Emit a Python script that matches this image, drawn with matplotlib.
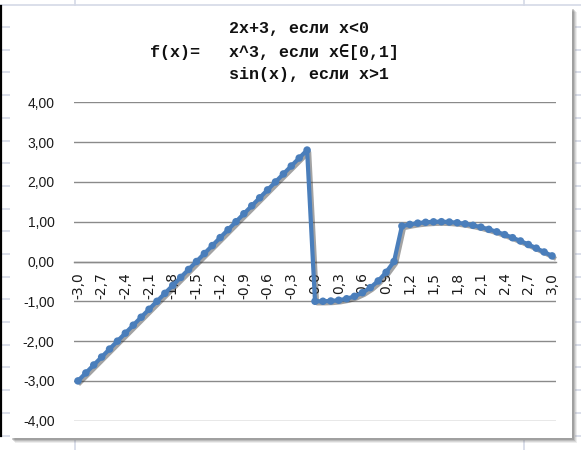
import matplotlib
matplotlib.use("Agg")
import matplotlib.pyplot as plt
import matplotlib.patheffects as pe
from matplotlib.lines import Line2D
from matplotlib.patches import Rectangle

# x values from -3.0 to 3.0 in steps of 0.1
x_values = [round(-3.0 + 0.1 * i, 1) for i in range(61)]

# f(x) for x < 0
f_left = [-3.0, -2.8, -2.6, -2.4, -2.2, -2.0, -1.8, -1.6, -1.4, -1.2,
          -1.0, -0.8, -0.6, -0.4, -0.2, 0.0, 0.2, 0.4, 0.6, 0.8,
          1.0, 1.2, 1.4, 1.6, 1.8, 2.0, 2.2, 2.4, 2.6, 2.8]
# f(x) for x in [0, 1]
f_middle = [-1.0, -0.999, -0.992, -0.973, -0.936, -0.875, -0.784, -0.657,
            -0.488, -0.271, 0.0]
# f(x) for x > 1
f_right = [0.891, 0.932, 0.964, 0.985, 0.997, 1.000, 0.992, 0.974, 0.946,
           0.909, 0.863, 0.808, 0.746, 0.675, 0.598, 0.516, 0.427, 0.335,
           0.239, 0.141]
y_values = f_left + f_middle + f_right

x_tick_values = x_values[::3]
y_tick_values = [-4, -3, -2, -1, 0, 1, 2, 3, 4]

title_left = "f(x)="
title_pieces = ["2x+3, если x<0", "x^3, если x\u2208[0,1]", "sin(x), если x>1"]

W, H = 581, 450
fig = plt.figure(figsize=(W / 100, H / 100), dpi=100)
fig.patch.set_facecolor("white")


def fx(px):
    return px / W


def fy(py):
    return 1 - py / H


sheet_color = "#d4d9e6"
# spreadsheet grid around the chart
fig.add_artist(Line2D([0, 1], [fy(4.5), fy(4.5)], color=sheet_color, lw=1.2, zorder=-10))
for cx in (75, 524):
    fig.add_artist(Line2D([fx(cx), fx(cx)], [fy(0), fy(5)], color=sheet_color, lw=1.2, zorder=-10))
    fig.add_artist(Line2D([fx(cx), fx(cx)], [fy(441), fy(450)], color=sheet_color, lw=1.2, zorder=-10))
row = 27.0
while row < 445:
    fig.add_artist(Line2D([fx(0), fx(10)], [fy(row), fy(row)], color=sheet_color, lw=1.2, zorder=-10))
    fig.add_artist(Line2D([fx(576), fx(581)], [fy(row), fy(row)], color=sheet_color, lw=1.2, zorder=-10))
    row += 22.7
fig.add_artist(Line2D([fx(0.8), fx(0.8)], [fy(6), fy(436)], color="black", lw=1.6, zorder=-10))

# chart area with a soft drop shadow
for i, a in enumerate([0.10, 0.14, 0.20, 0.28]):
    off = 5 - i
    fig.add_artist(Rectangle((fx(10 + off), fy(438 + off)), fx(562), (438 - 7) / H,
                             facecolor="#555555", edgecolor="none", alpha=a, zorder=-9))
fig.add_artist(Rectangle((fx(10), fy(438)), fx(562), (438 - 7) / H,
                         facecolor="white", edgecolor="none", zorder=-8))

# plot area
ax = fig.add_axes([fx(74), fy(420.7), fx(556) - fx(74), (420.7 - 102.3) / H])
ax.set_facecolor("none")
ax.set_xlim(-3.05, 3.05)
ax.set_ylim(-4, 4)

ax.set_yticks(y_tick_values)
ax.set_yticklabels([f"{v:.2f}".replace(".", ",") for v in y_tick_values])
ax.set_xticks(x_tick_values)
ax.set_xticklabels([f"{v:.1f}".replace(".", ",") for v in x_tick_values])
ax.tick_params(axis="y", length=0, pad=14, labelsize=10, labelcolor="#1a1a1a")
ax.tick_params(axis="x", length=0, pad=7.5, labelsize=10, labelcolor="#1a1a1a",
               labelrotation=90)
for lbl in ax.get_yticklabels() + ax.get_xticklabels():
    lbl.set_family(["Liberation Sans", "DejaVu Sans"])

ax.grid(axis="y", color="#8a8a8a", lw=1.0)
ax.set_axisbelow(True)
for side in ("left", "right", "top"):
    ax.spines[side].set_visible(False)
ax.spines["bottom"].set_position(("data", 0))
ax.spines["bottom"].set_color("#8a8a8a")
ax.spines["bottom"].set_linewidth(1.0)

ax.plot(x_values, y_values, color="#4a7ebb", lw=3.0, marker="o", markersize=5.4,
        markeredgewidth=0, solid_joinstyle="round", zorder=5, clip_on=False,
        path_effects=[pe.SimpleLineShadow(offset=(1.5, -1.5), shadow_color="#333333",
                                          alpha=0.45),
                      pe.Normal()])

# title block
mono = ["Liberation Mono", "DejaVu Sans Mono"]
fig.text(fx(150), fy(52), title_left, family=mono, fontsize=12, fontweight="bold",
         ha="left", va="center", color="#111111")
for i, t in enumerate(title_pieces):
    fig.text(fx(229), fy(29 + 22.8 * i), t, family=mono, fontsize=12, fontweight="bold",
             ha="left", va="center", color="#111111")

fig.savefig("out.png", dpi=100)
